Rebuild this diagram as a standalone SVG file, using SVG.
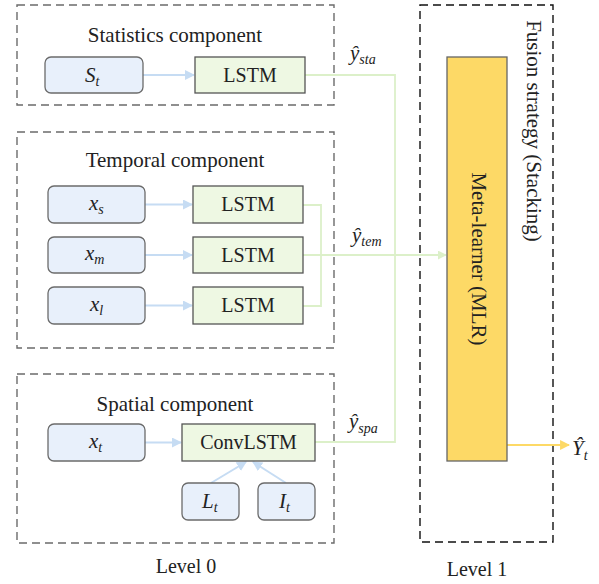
<svg xmlns="http://www.w3.org/2000/svg" width="599" height="584" viewBox="0 0 599 584">
<defs>
<style>
text{font-family:"Liberation Serif","Times New Roman",serif;fill:#222;font-size:20px}
.t{font-size:21px}
.it{font-style:italic;font-size:21px}
.sub{font-size:14px;font-style:italic}
.grp{fill:none;stroke:#6b6b6b;stroke-width:1.4;stroke-dasharray:8 5}
.lvl{fill:none;stroke:#111;stroke-width:1.4;stroke-dasharray:8 5}
.in{fill:#e8f0fb;stroke:#6b6b6b;stroke-width:1.3}
.lstm{fill:#eef8e3;stroke:#555;stroke-width:1.3}
.meta{fill:#fdd966;stroke:#666;stroke-width:1.3}
.ba{fill:none;stroke:#c6dcf3;stroke-width:2;marker-end:url(#mb)}
.gl{fill:none;stroke:#dcf0c9;stroke-width:1.8}
.ya{fill:none;stroke:#fdd966;stroke-width:2.2;marker-end:url(#my)}
</style>
<marker id="mb" viewBox="0 0 10 10" refX="9" refY="5" markerWidth="5" markerHeight="5" orient="auto"><path d="M0,0L10,5L0,10z" fill="#c6dcf3"/></marker>
<marker id="mg" viewBox="0 0 10 10" refX="9" refY="5" markerWidth="5" markerHeight="5" orient="auto"><path d="M0,0L10,5L0,10z" fill="#dcf0c9"/></marker>
<marker id="my" viewBox="0 0 10 10" refX="9" refY="5" markerWidth="4.5" markerHeight="4.5" orient="auto"><path d="M0,0L10,5L0,10z" fill="#fdd966"/></marker>
</defs>

<g id="groups">
<rect class="grp" x="17" y="5" width="317" height="100"/>
<text x="175" y="42" class="t" text-anchor="middle">Statistics component</text>
<rect class="grp" x="17" y="132" width="317" height="216"/>
<text x="175" y="167" class="t" text-anchor="middle">Temporal component</text>
<rect class="grp" x="17" y="374" width="317" height="169"/>
<text x="175" y="411" class="t" text-anchor="middle">Spatial component</text>
<rect class="lvl" x="420" y="5" width="133" height="537"/>
<text transform="translate(527,131) rotate(90)" class="t" text-anchor="middle">Fusion strategy (Stacking)</text>
<text x="186" y="573" text-anchor="middle">Level 0</text>
<text x="477" y="576" text-anchor="middle">Level 1</text>
</g>

<g id="connectors">
<path class="ba" d="M143,75H194"/>
<path class="ba" d="M145,204.5H192"/>
<path class="ba" d="M145,255H192"/>
<path class="ba" d="M145,305.5H192"/>
<path class="ba" d="M145,442.5H181"/>
<path class="ba" d="M211,483L246,462"/>
<path class="ba" d="M286,483L253,462"/>
<path class="gl" d="M305,75H395V442H315"/>
<path class="gl" d="M303,205H321V306H303"/>
<path class="gl" d="M303,255H446" marker-end="url(#mg)"/>
<path class="ya" d="M507,445H569"/>
<text x="350" y="60" class="it">ŷ<tspan class="sub" dy="4">sta</tspan></text>
<text x="352" y="242" class="it">ŷ<tspan class="sub" dy="4">tem</tspan></text>
<text x="349" y="428" class="it">ŷ<tspan class="sub" dy="5">spa</tspan></text>
<text x="572" y="455" class="it">Ŷ<tspan class="sub" dy="5">t</tspan></text>
</g>

<g id="n-st"><rect class="in" x="45" y="57" width="98" height="36" rx="6"/><text x="85" y="82" class="it">S<tspan class="sub" dy="4">t</tspan></text></g>
<g id="n-lstm-sta"><rect class="lstm" x="195" y="57" width="110" height="36"/><text x="250" y="82" text-anchor="middle">LSTM</text></g>

<g id="n-xs"><rect class="in" x="48" y="186" width="97" height="37" rx="6"/><text x="89" y="210" class="it">x<tspan class="sub" dy="4">s</tspan></text></g>
<g id="n-xm"><rect class="in" x="48" y="237" width="97" height="36" rx="6"/><text x="85" y="260" class="it">x<tspan class="sub" dy="4">m</tspan></text></g>
<g id="n-xl"><rect class="in" x="48" y="287" width="97" height="37" rx="6"/><text x="90" y="311" class="it">x<tspan class="sub" dy="4">l</tspan></text></g>
<g id="n-lstm-s"><rect class="lstm" x="193" y="186" width="110" height="37"/><text x="248" y="211" text-anchor="middle">LSTM</text></g>
<g id="n-lstm-m"><rect class="lstm" x="193" y="237" width="110" height="36"/><text x="248" y="262" text-anchor="middle">LSTM</text></g>
<g id="n-lstm-l"><rect class="lstm" x="193" y="287" width="110" height="37"/><text x="248" y="312" text-anchor="middle">LSTM</text></g>

<g id="n-xt"><rect class="in" x="48" y="424" width="97" height="37" rx="6"/><text x="89" y="448" class="it">x<tspan class="sub" dy="4">t</tspan></text></g>
<g id="n-convlstm"><rect class="lstm" x="182" y="424" width="133" height="37"/><text x="248.5" y="449" text-anchor="middle">ConvLSTM</text></g>
<g id="n-lt"><rect class="in" x="182" y="483" width="57" height="37" rx="6"/><text x="202" y="508" class="it">L<tspan class="sub" dy="4">t</tspan></text></g>
<g id="n-it"><rect class="in" x="258" y="483" width="57" height="37" rx="6"/><text x="279" y="508" class="it">I<tspan class="sub" dy="4">t</tspan></text></g>

<g id="n-meta"><rect class="meta" x="447" y="57" width="60" height="404"/><text transform="translate(472,259) rotate(90)" class="t" text-anchor="middle">Meta-learner (MLR)</text></g>
</svg>
